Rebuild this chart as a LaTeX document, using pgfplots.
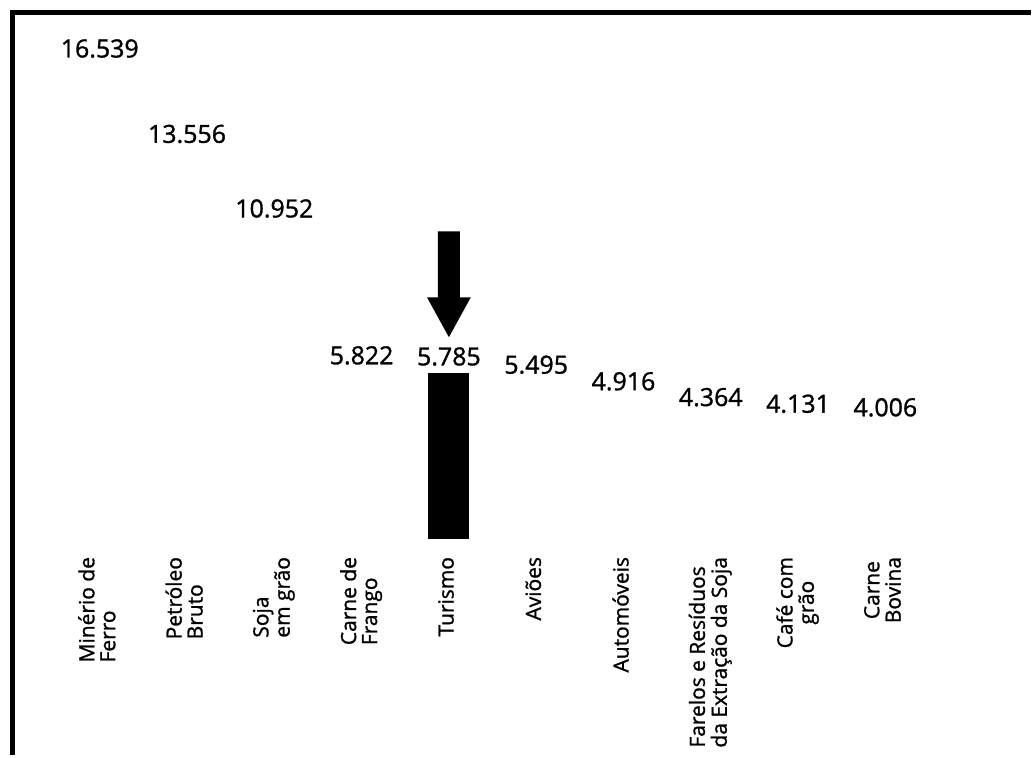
\documentclass[border=0pt]{standalone}
\usepackage{pgfplots}
\pgfplotsset{compat=1.18}
\usepackage{fontspec}
\setmainfont{Open Sans}[FakeBold=1.2]
% category labels: left-aligned or centred line blocks
\newcommand{\lc}[1]{\begin{tabular}{@{}l@{}}#1\end{tabular}}
\newcommand{\cc}[1]{\begin{tabular}{@{}c@{}}#1\end{tabular}}

\begin{document}
\begin{tikzpicture}
\begin{axis}[
  scale only axis,
  width=510pt, height=372pt,
  xmin=-0.994, xmax=10.663,
  ymin=-7561, ymax=18362,
  clip=false,
  axis line style={draw=none},
  ytick=\empty,
  xtick={0,...,9},
  major tick length=0pt,
  xticklabels={
    {\lc{Minério de\\Ferro}},
    {\lc{Petróleo\\Bruto}},
    {\lc{Soja\\em grão}},
    {\lc{Carne de\\Frango}},
    {\lc{Turismo}},
    {\lc{Aviões}},
    {\lc{Automóveis}},
    {\lc{Farelos e Resíduos\\da Extração da Soja}},
    {\cc{Café com\\grão}},
    {\cc{Carne\\Bovina}}},
  xticklabel shift=-99.5pt,
  xticklabel style={rotate=90, anchor=east, inner sep=0pt,
    font=\fontsize{10.5}{10}\selectfont},
  ybar,
  /pgf/number format/fixed,
  /pgf/number format/1000 sep={.},
  /pgf/number format/assume math mode=true,
]
% export values (values printed above each column)
\addplot[ybar, bar width=20.5pt, bar shift=0pt, draw=none, fill=none,
  nodes near coords,
  every node near coord/.append style={font=\fontsize{12.5}{14}\selectfont,
    inner sep=0pt, yshift=3.5pt, text=black}]
  coordinates {(0,16539) (1,13556) (2,10952) (3,5822) (4,5785)
               (5,5495) (6,4916) (7,4364) (8,4131) (9,4006)};
% highlighted column
\addplot[ybar, bar width=20.5pt, bar shift=0pt, draw=none, fill=black]
  coordinates {(4,5785)};
% downward arrow pointing at the highlighted column
\fill[black] (axis cs:3.874,10732) -- (axis cs:4.126,10732)
  -- (axis cs:4.126,8432) -- (axis cs:4.251,8432)
  -- (axis cs:4,7038) -- (axis cs:3.749,8432)
  -- (axis cs:3.874,8432) -- cycle;
% frame on the left and top
\draw[line width=2.5pt, line join=miter]
  (rel axis cs:0,0) -- (rel axis cs:0,1) -- (rel axis cs:1,1);
\path (rel axis cs:0,1) ++(-6.5pt,6.5pt);
\end{axis}
\end{tikzpicture}
\end{document}
